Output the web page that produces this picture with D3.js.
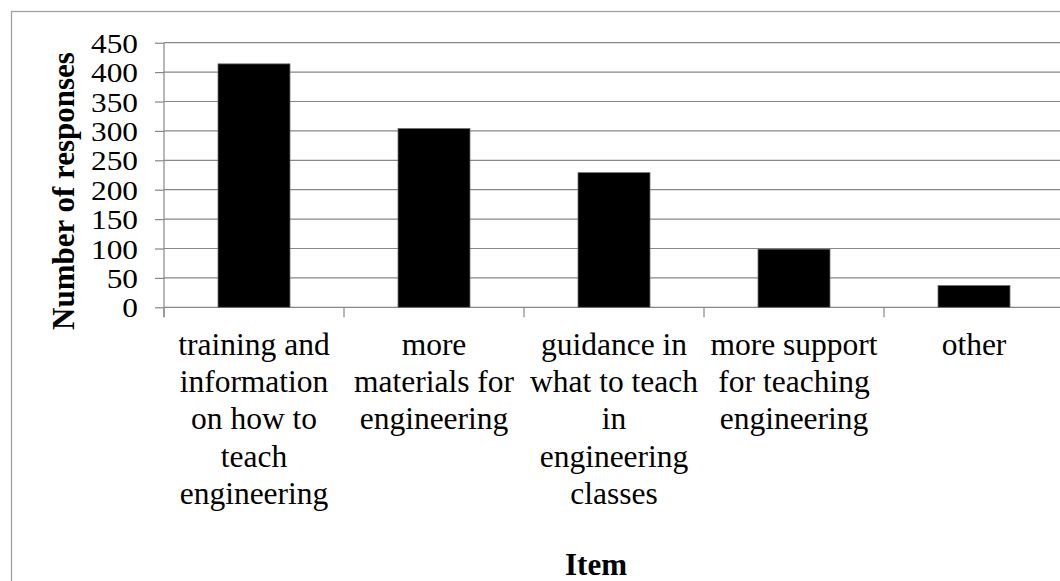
<!DOCTYPE html>
<html>
<head>
<meta charset="utf-8">
<script src="https://cdn.jsdelivr.net/npm/d3@7"></script>
<style>
  html, body { margin: 0; padding: 0; background: #fff; }
  svg { display: block; }
  svg text { font-family: "Liberation Serif", "Times New Roman", Times, serif; }
</style>
</head>
<body>
<svg id="chart" width="1060" height="581"></svg>
<script>
// Survey responses per requested support item
const categories = [
  "training and\ninformation\non how to\nteach\nengineering",
  "more\nmaterials for\nengineering",
  "guidance in\nwhat to teach\nin\nengineering\nclasses",
  "more support\nfor teaching\nengineering",
  "other"
];
const responses = [414, 304, 229, 99, 37];
const yTicks = [0, 50, 100, 150, 200, 250, 300, 350, 400, 450];
const yTitle = "Number of responses";
const xTitle = "Item";

const serif = '"Liberation Serif", "Times New Roman", Times, serif';
const svg = d3.select("#chart");
const plot = { left: 164, right: 1064, top: 42.7, bottom: 307.3 };
const gridColor = "#878787";

// outer chart frame (continues past the visible edge)
svg.append("rect")
  .attr("x", 11.5).attr("y", 11.5)
  .attr("width", 1100).attr("height", 700)
  .attr("fill", "#fff")
  .attr("stroke", "#a0a0a0")
  .attr("stroke-width", 1.3);

const x = d3.scaleBand()
  .domain(categories)
  .range([plot.left, plot.right])
  .paddingInner(0.6)
  .paddingOuter(0.3);

const xBand = d3.scaleBand()
  .domain(categories)
  .range([plot.left, plot.right]);

const y = d3.scaleLinear()
  .domain([0, 450])
  .range([plot.bottom, plot.top]);

// horizontal gridlines
svg.append("g")
  .selectAll("line")
  .data(yTicks)
  .join("line")
  .attr("x1", plot.left).attr("x2", plot.right)
  .attr("y1", d => y(d)).attr("y2", d => y(d))
  .attr("stroke", gridColor)
  .attr("stroke-width", 1.2);

// y axis with outward ticks; tick numerals are set slightly wide
const tickStretch = 1.12;
const yAxis = svg.append("g")
  .attr("transform", `translate(${plot.left},0)`)
  .call(d3.axisLeft(y).tickValues(yTicks).tickSize(9).tickPadding(17));
yAxis.attr("font-family", null).attr("font-size", null);
yAxis.select(".domain").remove();
yAxis.selectAll(".tick line").attr("stroke", gridColor).attr("stroke-width", 1.2);
yAxis.selectAll(".tick text")
  .attr("fill", "#000")
  .style("font-family", serif)
  .style("font-size", "28px")
  .attr("x", -26 / tickStretch)
  .attr("transform", `scale(${tickStretch},1)`)
  .attr("dy", "0.34em");
yAxis.append("line")
  .attr("x1", 0).attr("x2", 0)
  .attr("y1", plot.top).attr("y2", plot.bottom + 10)
  .attr("stroke", gridColor)
  .attr("stroke-width", 1.2);

// category boundary ticks below the baseline
const bounds = categories.map(c => xBand(c)).concat([plot.right]);
svg.append("g")
  .selectAll("line")
  .data(bounds)
  .join("line")
  .attr("x1", d => d).attr("x2", d => d)
  .attr("y1", plot.bottom).attr("y2", plot.bottom + 10)
  .attr("stroke", gridColor)
  .attr("stroke-width", 1.2);

// bars
svg.append("g")
  .selectAll("rect")
  .data(categories.map((c, i) => ({ c, v: responses[i] })))
  .join("rect")
  .attr("x", d => x(d.c))
  .attr("width", x.bandwidth())
  .attr("y", d => y(d.v))
  .attr("height", d => y(0) - y(d.v))
  .attr("fill", "#000")
  .attr("stroke", "#6e6e6e")
  .attr("stroke-width", 0.8);

// wrapped category labels
const lineH = 37.2;
svg.append("g")
  .selectAll("text")
  .data(categories)
  .join("text")
  .attr("text-anchor", "middle")
  .style("font-family", serif)
  .style("font-size", "31.5px")
  .attr("fill", "#000")
  .each(function (d) {
    const t = d3.select(this);
    d.split("\n").forEach((line, i) => {
      t.append("tspan")
        .attr("x", xBand(d) + xBand.bandwidth() / 2)
        .attr("y", 355 + i * lineH)
        .text(line);
    });
  });

// axis titles
svg.append("text")
  .attr("transform", "translate(73.5,191) rotate(-90)")
  .attr("text-anchor", "middle")
  .style("font-family", serif)
  .style("font-size", "31px")
  .style("font-weight", "bold")
  .attr("fill", "#000")
  .text(yTitle);

svg.append("text")
  .attr("x", 596)
  .attr("y", 575)
  .attr("text-anchor", "middle")
  .style("font-family", serif)
  .style("font-size", "31px")
  .style("font-weight", "bold")
  .attr("fill", "#000")
  .text(xTitle);
</script>
</body>
</html>
